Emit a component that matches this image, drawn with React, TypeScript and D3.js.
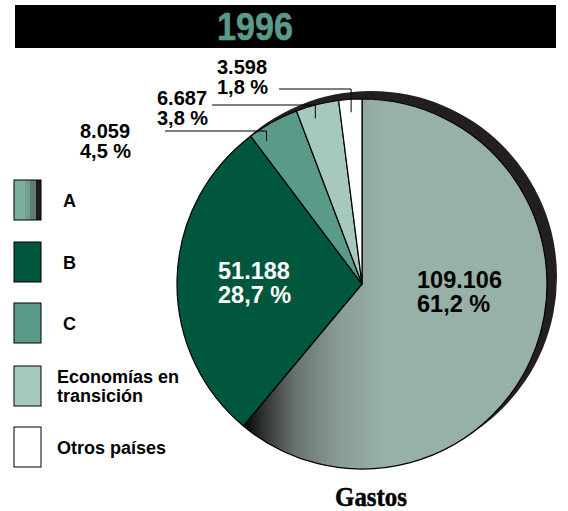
import { arc, pie } from "d3";
import React from "react";

const categories = ["A", "B", "C", "Economías en transición", "Otros países"];
const values = [109106, 51188, 8059, 6687, 3598];
const valueLabels = ["109.106", "51.188", "8.059", "6.687", "3.598"];
const percentLabels = ["61,2 %", "28,7 %", "4,5 %", "3,8 %", "1,8 %"];
const sliceColors = ["url(#gradA)", "#01573d", "#5a9a88", "#a7c8bd", "#ffffff"];
const legendLines = [["A"], ["B"], ["C"], ["Economías en", "transición"], ["Otros países"]];

const width = 568;
const height = 511;
const cx = 362;
const cy = 284;
const radius = 185;
const font = "'Liberation Sans', Arial, Helvetica, sans-serif";

// where the text of each label sits (inside ones for A/B, outside with leaders for the rest)
const insideLabel: Record<number, { x: number; y: number; fill: string }> = {
  0: { x: 417, y: 288, fill: "#000" },
  1: { x: 218, y: 279, fill: "#fff" },
};
const outsideLabel: Record<number, { x: number; y: number; lineX: number; lineY: number; at: number }> = {
  2: { x: 80, y: 138, lineX: 165, lineY: 131, at: 0.2 },
  3: { x: 157, y: 105, lineX: 212, lineY: 105, at: 0.37 },
  4: { x: 217, y: 74, lineX: 279, lineY: 89, at: 0.5 },
};

const legendTop = [180, 242, 303, 366, 427];

const slices = pie<number>().sort(null).value((d) => d)(values);
const face = arc<any>().innerRadius(0).outerRadius(radius);

export default function App() {
  return (
    <svg width={width} height={height} viewBox={`0 0 ${width} ${height}`} style={{ position: "absolute", left: 0, top: 0 }}>
      <defs>
        <linearGradient id="gradA" gradientUnits="userSpaceOnUse" x1={-120} y1={0} x2={50} y2={0}>
          <stop offset="0" stopColor="#000000" />
          <stop offset="0.12" stopColor="#2e302f" />
          <stop offset="0.32" stopColor="#6a7470" />
          <stop offset="0.58" stopColor="#8a9e96" />
          <stop offset="0.85" stopColor="#97b1a7" />
        </linearGradient>
        <linearGradient id="legA" x1="0" x2="1" y1="0" y2="0">
          <stop offset="0" stopColor="#7aae9e" />
          <stop offset="0.42" stopColor="#7aae9e" />
          <stop offset="0.42" stopColor="#6fa090" />
          <stop offset="0.6" stopColor="#6fa090" />
          <stop offset="0.6" stopColor="#5f7d74" />
          <stop offset="0.8" stopColor="#5f7d74" />
          <stop offset="0.8" stopColor="#1e1e1e" />
          <stop offset="1" stopColor="#1e1e1e" />
        </linearGradient>
      </defs>

      {/* title bar */}
      <rect x={15} y={5} width={541} height={43} fill="#000" />
      <text x={255} y={40} textAnchor="middle" fontFamily={font} fontWeight="bold" fontSize={38} fill="#5a9a88" stroke="#5a9a88" strokeWidth={0.6} textLength={76} lengthAdjust="spacingAndGlyphs">
        1996
      </text>

      {/* pie with shadow */}
      <circle cx={cx + 9} cy={cy - 7} r={radius + 1} fill="#231f20" />
      <g transform={`translate(${cx},${cy})`}>
        {slices.map((s, i) => (
          <path key={i} d={face(s) || ""} fill={sliceColors[i]} stroke="#000" strokeWidth={1.2} strokeLinejoin="round" />
        ))}
      </g>

      {/* labels inside */}
      {slices.map((s, i) => {
        const l = insideLabel[i];
        if (!l) return null;
        return (
          <text key={"in" + i} fontFamily={font} fontWeight="bold" fontSize={23.5} fill={l.fill}>
            <tspan x={l.x} y={l.y}>{valueLabels[i]}</tspan>
            <tspan x={l.x} y={l.y + 24}>{percentLabels[i]}</tspan>
          </text>
        );
      })}

      {/* labels outside with leaders */}
      {slices.map((s, i) => {
        const l = outsideLabel[i];
        if (!l) return null;
        const a = s.startAngle + (s.endAngle - s.startAngle) * l.at;
        const r = radius * 0.93;
        const ex = cx + r * Math.sin(a);
        const ey = cy - r * Math.cos(a);
        return (
          <g key={"out" + i}>
            <polyline points={`${l.lineX},${l.lineY} ${ex},${l.lineY} ${ex},${ey}`} fill="none" stroke="#000" strokeWidth={1} />
            <text fontFamily={font} fontWeight="bold" fontSize={20} fill="#000">
              <tspan x={l.x} y={l.y}>{valueLabels[i]}</tspan>
              <tspan x={l.x} y={l.y + 20}>{percentLabels[i]}</tspan>
            </text>
          </g>
        );
      })}

      {/* legend */}
      {categories.map((c, i) => {
        const y = legendTop[i];
        const lines = legendLines[i];
        const tx = lines[0].length > 1 ? 57 : 63;
        const first = lines.length > 1 ? y + 17 : y + 27;
        return (
          <g key={c}>
            <rect x={14} y={y} width={27} height={40} fill={i === 0 ? "url(#legA)" : sliceColors[i]} stroke="#000" strokeWidth={1} />
            <text fontFamily={font} fontWeight="bold" fontSize={18} fill="#000">
              {lines.map((t, k) => (
                <tspan key={k} x={tx} y={first + k * 19}>{t}</tspan>
              ))}
            </text>
          </g>
        );
      })}

      <text x={371} y={506} textAnchor="middle" fontFamily="'Liberation Serif', 'Times New Roman', serif" fontWeight="bold" fontSize={28} fill="#000" stroke="#000" strokeWidth={0.5} textLength={72} lengthAdjust="spacingAndGlyphs">
        Gastos
      </text>
    </svg>
  );
}
